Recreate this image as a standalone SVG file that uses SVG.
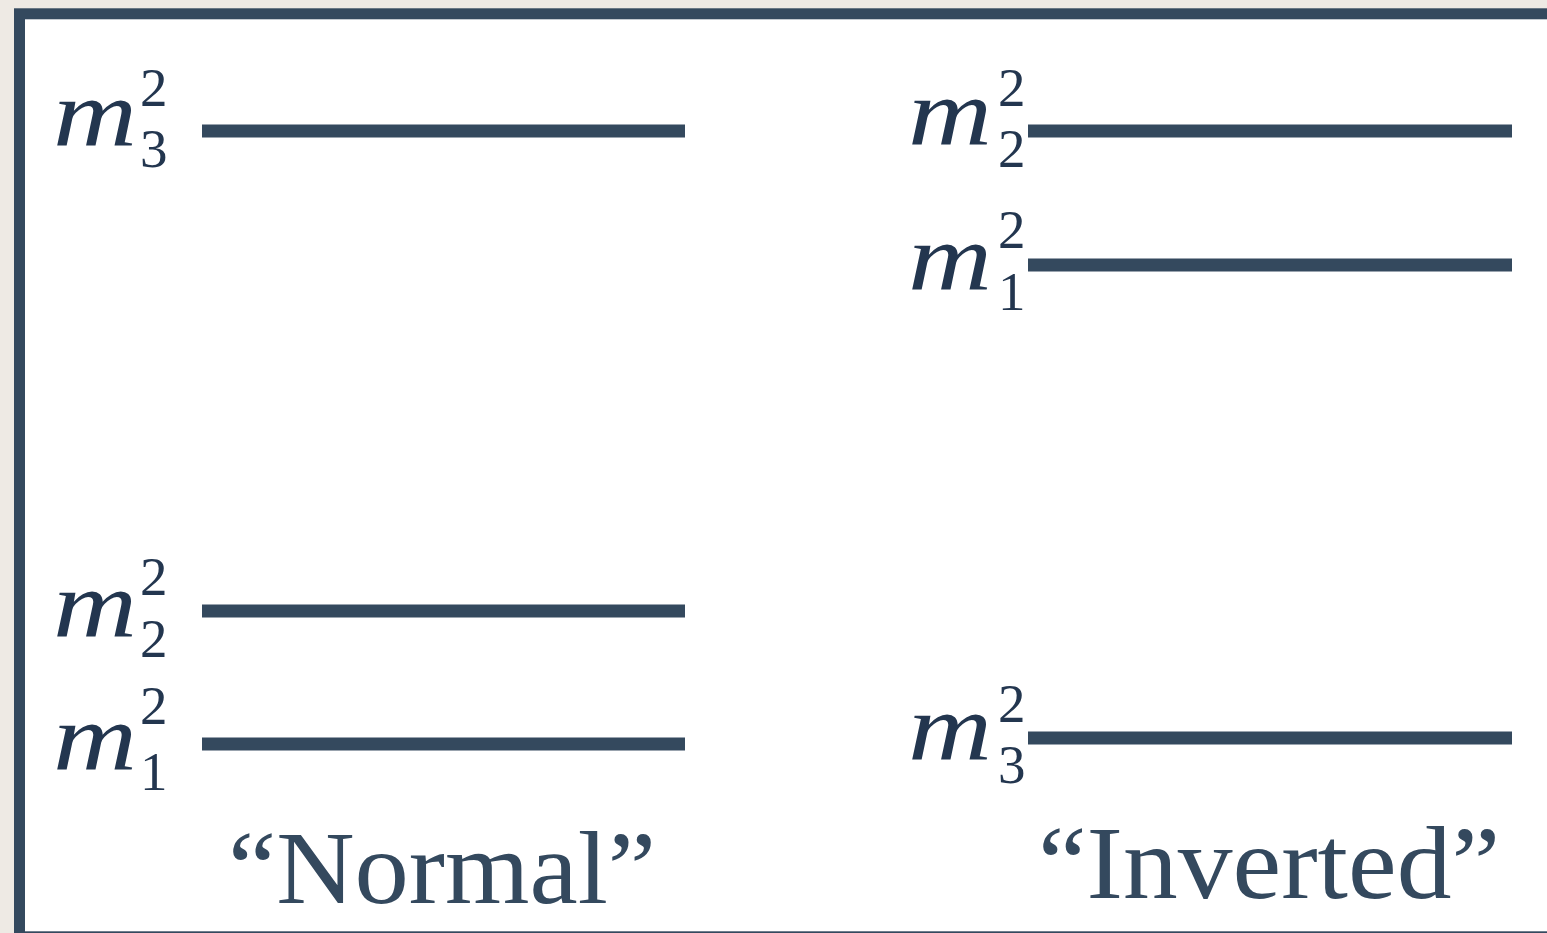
<svg xmlns="http://www.w3.org/2000/svg" width="1547" height="933" viewBox="0 0 1547 933">
<style>
.bg{fill:#eeeae4}
.frame{fill:#ffffff;stroke:#34495e;stroke-width:11}
.lvl{stroke:#34495e;stroke-width:13;stroke-linecap:butt}
.m{font-family:"Liberation Serif",serif;font-style:italic;font-size:96px;fill:#23364f}
.d{font-family:"Liberation Serif",serif;font-size:55px;fill:#23364f}
.cap{font-family:"Liberation Serif",serif;font-size:104px;fill:#34495e}
</style>
<rect class="bg" x="0" y="0" width="1547" height="933"/>
<rect class="frame" x="19.5" y="13.8" width="1560" height="923"/>
<g id="normal">
  <g id="n-m3">
    <line class="lvl" x1="202" y1="131" x2="685" y2="131"/>
    <text class="m" x="53" y="146" textLength="84" lengthAdjust="spacingAndGlyphs">m</text>
    <text class="d"><tspan x="140" y="106">2</tspan><tspan x="140" y="167">3</tspan></text>
  </g>
  <g id="n-m2">
    <line class="lvl" x1="202" y1="611" x2="685" y2="611"/>
    <text class="m" x="53" y="637" textLength="84" lengthAdjust="spacingAndGlyphs">m</text>
    <text class="d"><tspan x="140" y="595">2</tspan><tspan x="140" y="657">2</tspan></text>
  </g>
  <g id="n-m1">
    <line class="lvl" x1="202" y1="744" x2="685" y2="744"/>
    <text class="m" x="53" y="770" textLength="84" lengthAdjust="spacingAndGlyphs">m</text>
    <text class="d"><tspan x="140" y="724">2</tspan><tspan x="140" y="790">1</tspan></text>
  </g>
  <text id="normal-label" class="cap" x="228" y="903" textLength="428" lengthAdjust="spacingAndGlyphs">“Normal”</text>
</g>
<g id="inverted">
  <g id="i-m2">
    <line class="lvl" x1="1028" y1="131" x2="1512" y2="131"/>
    <text class="m" x="908" y="145" textLength="84" lengthAdjust="spacingAndGlyphs">m</text>
    <text class="d"><tspan x="998" y="106">2</tspan><tspan x="998" y="167">2</tspan></text>
  </g>
  <g id="i-m1">
    <line class="lvl" x1="1028" y1="265" x2="1512" y2="265"/>
    <text class="m" x="908" y="290" textLength="84" lengthAdjust="spacingAndGlyphs">m</text>
    <text class="d"><tspan x="998" y="248">2</tspan><tspan x="998" y="310">1</tspan></text>
  </g>
  <g id="i-m3">
    <line class="lvl" x1="1028" y1="738" x2="1512" y2="738"/>
    <text class="m" x="908" y="760" textLength="84" lengthAdjust="spacingAndGlyphs">m</text>
    <text class="d"><tspan x="998" y="722">2</tspan><tspan x="998" y="783">3</tspan></text>
  </g>
  <text id="inverted-label" class="cap" x="1038" y="898" textLength="462" lengthAdjust="spacingAndGlyphs">“Inverted”</text>
</g>
<g id="connectors"/>
</svg>
